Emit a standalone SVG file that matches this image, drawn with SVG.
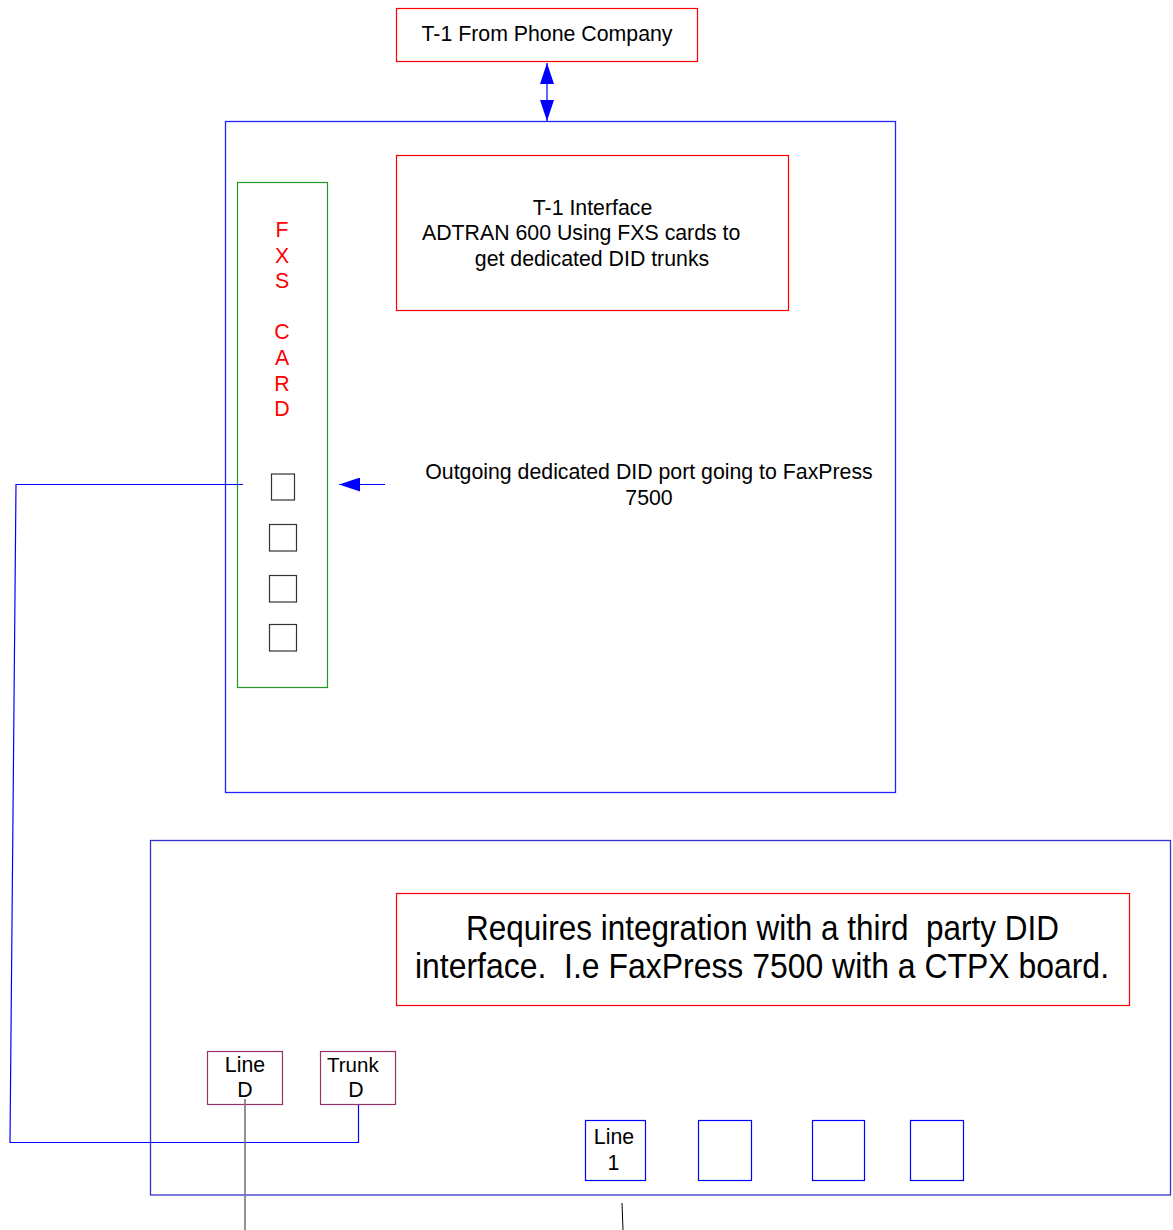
<svg xmlns="http://www.w3.org/2000/svg" width="1173" height="1230" viewBox="0 0 1173 1230">
<defs>
<style>
text{font-family:"Liberation Sans",Arial,sans-serif;fill:#000;}
.t21{font-size:21.3px;}
.mid{text-anchor:middle;}
.blue{fill:none;stroke:#0000ff;stroke-width:1.2;}
.red{fill:#fff;stroke:#ff0000;stroke-width:1.2;}
.green{fill:none;stroke:#229922;stroke-width:1.2;}
.port{fill:#fff;stroke:#333;stroke-width:1.2;}
.maroon{fill:#fff;stroke:#993366;stroke-width:1.2;}
.fxs{fill:#ff0000;font-size:21.3px;text-anchor:middle;}
.conn{fill:none;stroke:#0000ff;stroke-width:1.2;}
</style>
<marker id="ah" viewBox="0 0 21 14" refX="21" refY="7" markerWidth="21" markerHeight="14" markerUnits="userSpaceOnUse" orient="auto-start-reverse">
<path d="M0,0 L21,7 L0,14 z" fill="#0000ff"/>
</marker>
</defs>
<rect width="1173" height="1230" fill="#fff"/>

<g id="phone-company">
<rect x="396.5" y="8.5" width="301" height="53" class="red"/>
<text x="547" y="41" class="t21 mid">T-1 From Phone Company</text>
</g>

<g id="adtran">
<rect x="225.5" y="121.5" width="670" height="671" fill="none" stroke="#2222ff" stroke-width="1.3"/>
</g>

<g id="t1-interface">
<rect x="396.5" y="155.5" width="392" height="155" class="red"/>
<text x="592.5" y="215" class="t21 mid">T-1 Interface</text>
<text x="422" y="240" class="t21">ADTRAN 600 Using FXS cards to</text>
<text x="592" y="266" class="t21 mid">get dedicated DID trunks</text>
</g>

<g id="fxs-card">
<rect x="237.5" y="182.5" width="90" height="505" class="green"/>
<text x="282" y="237" class="fxs">F</text>
<text x="282" y="263" class="fxs">X</text>
<text x="282" y="288" class="fxs">S</text>
<text x="282" y="339" class="fxs">C</text>
<text x="282" y="365" class="fxs">A</text>
<text x="282" y="391" class="fxs">R</text>
<text x="282" y="416" class="fxs">D</text>
<rect x="271.5" y="474" width="23" height="26" class="port"/>
<rect x="269.5" y="524.5" width="27" height="26.5" class="port"/>
<rect x="269.5" y="575.5" width="27" height="26.5" class="port"/>
<rect x="269.5" y="624.5" width="27" height="26.5" class="port"/>
</g>

<g id="outgoing-label">
<text x="649" y="478.5" class="t21 mid">Outgoing dedicated DID port going to FaxPress</text>
<text x="649" y="504.5" class="t21 mid">7500</text>
</g>

<g id="faxpress">
<rect x="150.5" y="840.5" width="1020" height="354.5" fill="none" stroke="#3333cc" stroke-width="1.3"/>
</g>

<g id="requires-note">
<rect x="396.5" y="893.5" width="733" height="112" class="red"/>
<text transform="translate(466,940) scale(1,1.09)" x="0" y="0" font-size="32" textLength="593" lengthAdjust="spacingAndGlyphs" xml:space="preserve">Requires integration with a third  party DID</text>
<text transform="translate(415,978) scale(1,1.09)" x="0" y="0" font-size="32" textLength="694" lengthAdjust="spacingAndGlyphs" xml:space="preserve">interface.  I.e FaxPress 7500 with a CTPX board.</text>
</g>

<g id="line-d">
<rect x="207.5" y="1051.5" width="75" height="53" class="maroon"/>
<text x="245" y="1071.5" class="t21 mid">Line</text>
<text x="245" y="1096.5" class="t21 mid">D</text>
</g>

<g id="trunk-d">
<rect x="320.5" y="1051.5" width="75" height="53" class="maroon"/>
<text x="327" y="1071.5" font-size="20.5">Trunk</text>
<text x="356" y="1096.5" class="t21 mid">D</text>
</g>

<g id="line-1">
<rect x="585.5" y="1120.5" width="60" height="60" class="blue"/>
<text x="614" y="1143.5" class="t21 mid">Line</text>
<text x="613.5" y="1170" class="t21 mid">1</text>
</g>
<g id="port-2"><rect x="698.5" y="1120.5" width="53" height="60" class="blue"/></g>
<g id="port-3"><rect x="812.5" y="1120.5" width="52" height="60" class="blue"/></g>
<g id="port-4"><rect x="910.5" y="1120.5" width="53" height="60" class="blue"/></g>

<g id="connectors">
<line x1="547" y1="63" x2="547" y2="121" stroke="#0000ff" stroke-width="1.2" marker-start="url(#ah)" marker-end="url(#ah)"/>
<line x1="385" y1="484.5" x2="339" y2="484.5" stroke="#0000ff" stroke-width="1.2" marker-end="url(#ah)"/>
<polyline points="243,484.5 16,484.5 10,1142.5 358.5,1142.5 358.5,1105" class="conn"/>
<line x1="245" y1="1099" x2="245" y2="1230" stroke="#777" stroke-width="1.6"/>
<line x1="622" y1="1203" x2="623" y2="1230" stroke="#000" stroke-width="1"/>
</g>
</svg>
